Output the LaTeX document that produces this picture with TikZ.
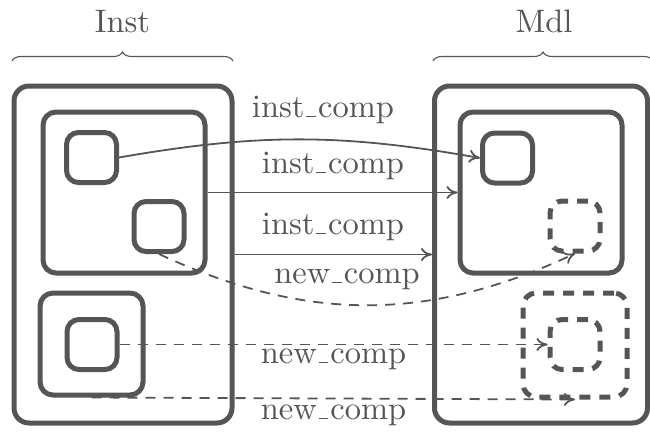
\documentclass[tikz,border=0pt]{standalone}
\usepackage{fontspec}
\usetikzlibrary{arrows.meta,decorations.pathreplacing}
\definecolor{ink}{HTML}{555555}
% design size 10 cut of Latin Modern, used at every size
\newfontfamily\labelfont{lmroman10-regular.otf}
% thin baseline rule used as the underscore in the labels
\newcommand\lowbar{\leavevmode\kern.06em\vbox{\hrule height 0.9pt width .3em}\kern.06em}

\begin{document}
\begin{tikzpicture}[x=1pt,y=-1pt,
  frame/.style={draw=ink, line width=5pt, rounded corners=15pt, inner sep=0pt},
  subframe/.style={frame, rounded corners=13pt},
  cell/.style={frame, rounded corners=12pt, minimum size=50pt},
  ghost/.style={dash pattern=on 11pt off 9pt},
  conn/.style={draw=ink, line width=1.8pt,
    -{Computer Modern Rightarrow[length=11pt,width=13pt]}},
  newconn/.style={conn, dash pattern=on 10pt off 8pt},
  lbl/.style={text=ink, font=\labelfont\fontsize{32.5}{39}\selectfont, inner sep=0pt, anchor=base},
  bracket/.style={draw=ink, line width=1.1pt, decorate, decoration={brace, amplitude=9pt}}]
\useasboundingbox (0,0) rectangle (650,432);

% Inst side
\node[frame, minimum width=218pt, minimum height=337pt] (inst) at (123,254.5) {};
\node[subframe, minimum width=162pt, minimum height=161pt] (instTop) at (124,192.5) {};
\node[cell] (a) at (91.5,157.5) {};
\node[cell] (b) at (159,226.5) {};
\node[subframe, minimum width=103pt, minimum height=102pt] (instLow) at (91.5,344) {};
\node[cell] (c) at (92,344.5) {};

% Mdl side
\node[frame, minimum width=213pt, minimum height=337pt] (mdl) at (541,254.5) {};
\node[subframe, minimum width=162pt, minimum height=161pt] (mdlTop) at (541,192.5) {};
\node[cell] (d) at (507.5,158) {};
\node[cell, ghost] (e) at (575,226) {};
\node[subframe, ghost, minimum width=104pt, minimum height=104pt] (mdlLow) at (575,345) {};
\node[cell, ghost] (f) at (575,344.5) {};

% headings with braces
\node[lbl] (hInst) at (122.5,32) {Inst};
\node[lbl] (hMdl) at (544,32) {Mdl};
\coordinate (bInstL) at (12,61);
\coordinate (bInstR) at (233,61);
\coordinate (bMdlL) at (433,61);
\coordinate (bMdlR) at (653,61);
\draw[bracket] (bInstL) -- (bInstR);
\draw[bracket] (bMdlL) -- (bMdlR);

% connectors
\draw[conn] (a.east) to[bend left=10] (d.west);
\draw[conn] (instTop.east) -- (mdlTop.west);
\draw[conn] (inst.east) -- (mdl.west);
\draw[newconn] (b.south) to[bend right=25] (e.south);
\draw[newconn] (c.east) -- (f.west);
\draw[newconn] (instLow.south) -- (mdlLow.south);

% connector labels
\node[lbl] (l1) at (323,117) {inst\lowbar comp};
\node[lbl] (l2) at (333,173) {inst\lowbar comp};
\node[lbl] (l3) at (333,234) {inst\lowbar comp};
\node[lbl] (l4) at (347,283) {new\lowbar comp};
\node[lbl] (l5) at (333.5,363) {new\lowbar comp};
\node[lbl] (l6) at (333.5,419) {new\lowbar comp};
\end{tikzpicture}
\end{document}
